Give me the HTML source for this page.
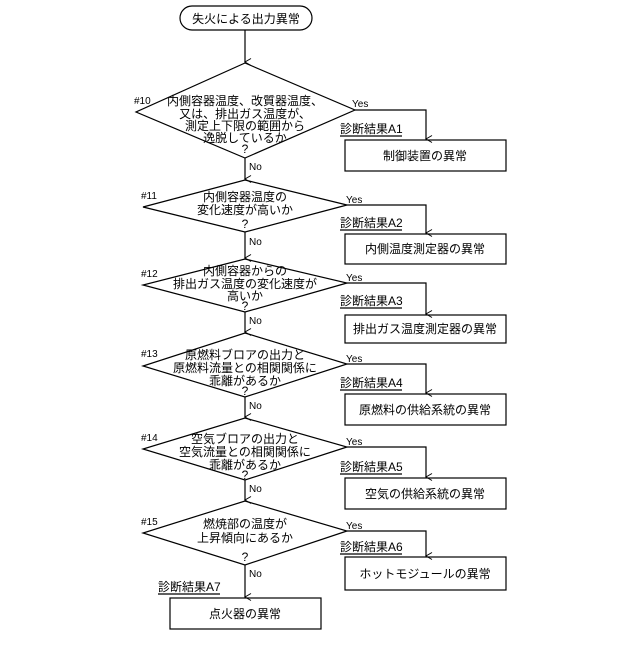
<!DOCTYPE html>
<html><head><meta charset="utf-8"><style>
body{margin:0;background:#fff}
svg text{font-family:"Liberation Sans","Noto Sans CJK JP",sans-serif;fill:#000}
</style></head><body>
<svg width="640" height="640" viewBox="0 0 640 640" xmlns="http://www.w3.org/2000/svg">
<defs><marker id="a" markerWidth="8" markerHeight="8" refX="4" refY="7" orient="auto-start-reverse" markerUnits="userSpaceOnUse"><path d="M0.5,1 L4,7 L7.5,1" fill="none" stroke="#000" stroke-width="1"/></marker></defs>
<g stroke="#000" stroke-width="1.2" fill="none">
<rect x="180" y="6" width="132" height="24" rx="12"/>
<line x1="245" y1="30" x2="245" y2="62" marker-end="url(#a)"/>
<polygon points="245,63 355,110 245,158 136,112"/>
<line x1="245" y1="158" x2="245" y2="179" marker-end="url(#a)"/>
<polygon points="245,180 347,205 245,232 143,207"/>
<line x1="245" y1="232" x2="245" y2="258" marker-end="url(#a)"/>
<polygon points="245,259 347,283 245,312 143,285"/>
<line x1="245" y1="312" x2="245" y2="332" marker-end="url(#a)"/>
<polygon points="245,333 347,364 245,397 143,366"/>
<line x1="245" y1="397" x2="245" y2="417" marker-end="url(#a)"/>
<polygon points="245,418 347,447 245,480 143,449"/>
<line x1="245" y1="480" x2="245" y2="500" marker-end="url(#a)"/>
<polygon points="245,501 347,531 245,565 143,533"/>
<line x1="245" y1="565" x2="245" y2="597" marker-end="url(#a)"/>
<rect x="170" y="598" width="151" height="31"/>
<polyline points="355,110 426,110 426,139" marker-end="url(#a)"/>
<rect x="345" y="140" width="161" height="31"/>
<polyline points="347,205 426,205 426,233" marker-end="url(#a)"/>
<rect x="345" y="234" width="161" height="30"/>
<polyline points="347,283 426,283 426,314" marker-end="url(#a)"/>
<rect x="345" y="315" width="161" height="28"/>
<polyline points="347,364 426,364 426,393" marker-end="url(#a)"/>
<rect x="345" y="394" width="161" height="31"/>
<polyline points="347,447 426,447 426,477" marker-end="url(#a)"/>
<rect x="345" y="478" width="161" height="31"/>
<polyline points="347,531 426,531 426,556" marker-end="url(#a)"/>
<rect x="345" y="557" width="161" height="33"/>
<line x1="340" y1="136" x2="402" y2="136"/>
<line x1="340" y1="230" x2="402" y2="230"/>
<line x1="340" y1="308" x2="402" y2="308"/>
<line x1="340" y1="390" x2="402" y2="390"/>
<line x1="340" y1="474" x2="402" y2="474"/>
<line x1="340" y1="554" x2="402" y2="554"/>
<line x1="158" y1="594" x2="220" y2="594"/>
</g>
<g font-size="12" text-anchor="middle">
<text x="246" y="23">失火による出力異常</text>
<text x="245" y="105">内側容器温度、改質器温度、</text>
<text x="245" y="118">又は、排出ガス温度が、</text>
<text x="245" y="130">測定上下限の範囲から</text>
<text x="245" y="142">逸脱しているか</text>
<text x="245" y="153">?</text>
<text x="245" y="201">内側容器温度の</text>
<text x="245" y="214">変化速度が高いか</text>
<text x="245" y="228">?</text>
<text x="245" y="275">内側容器からの</text>
<text x="245" y="288">排出ガス温度の変化速度が</text>
<text x="245" y="300">高いか</text>
<text x="245" y="310">?</text>
<text x="245" y="359">原燃料ブロアの出力と</text>
<text x="245" y="372">原燃料流量との相関関係に</text>
<text x="245" y="385">乖離があるか</text>
<text x="245" y="395">?</text>
<text x="245" y="443">空気ブロアの出力と</text>
<text x="245" y="456">空気流量との相関関係に</text>
<text x="245" y="469">乖離があるか</text>
<text x="245" y="479">?</text>
<text x="245" y="528">燃焼部の温度が</text>
<text x="245" y="542">上昇傾向にあるか</text>
<text x="245" y="561">?</text>
<text x="425" y="160">制御装置の異常</text>
<text x="425" y="253">内側温度測定器の異常</text>
<text x="425" y="333">排出ガス温度測定器の異常</text>
<text x="425" y="414">原燃料の供給系統の異常</text>
<text x="425" y="498">空気の供給系統の異常</text>
<text x="425" y="578">ホットモジュールの異常</text>
<text x="245" y="618">点火器の異常</text>
</g>
<g font-size="12">
<text x="340" y="133">診断結果A1</text>
<text x="340" y="227">診断結果A2</text>
<text x="340" y="305">診断結果A3</text>
<text x="340" y="387">診断結果A4</text>
<text x="340" y="471">診断結果A5</text>
<text x="340" y="551">診断結果A6</text>
<text x="158" y="591">診断結果A7</text>
</g>
<g font-size="10">
<text x="352" y="107">Yes</text><text x="346" y="203">Yes</text><text x="346" y="281">Yes</text>
<text x="346" y="362">Yes</text><text x="346" y="445">Yes</text><text x="346" y="529">Yes</text>
<text x="249" y="170">No</text><text x="249" y="245">No</text><text x="249" y="324">No</text>
<text x="249" y="409">No</text><text x="249" y="492">No</text><text x="249" y="577">No</text>
<text x="134" y="104">#10</text><text x="141" y="199">#11</text><text x="141" y="277">#12</text>
<text x="141" y="357">#13</text><text x="141" y="441">#14</text><text x="141" y="525">#15</text>
</g>
</svg>
</body></html>
